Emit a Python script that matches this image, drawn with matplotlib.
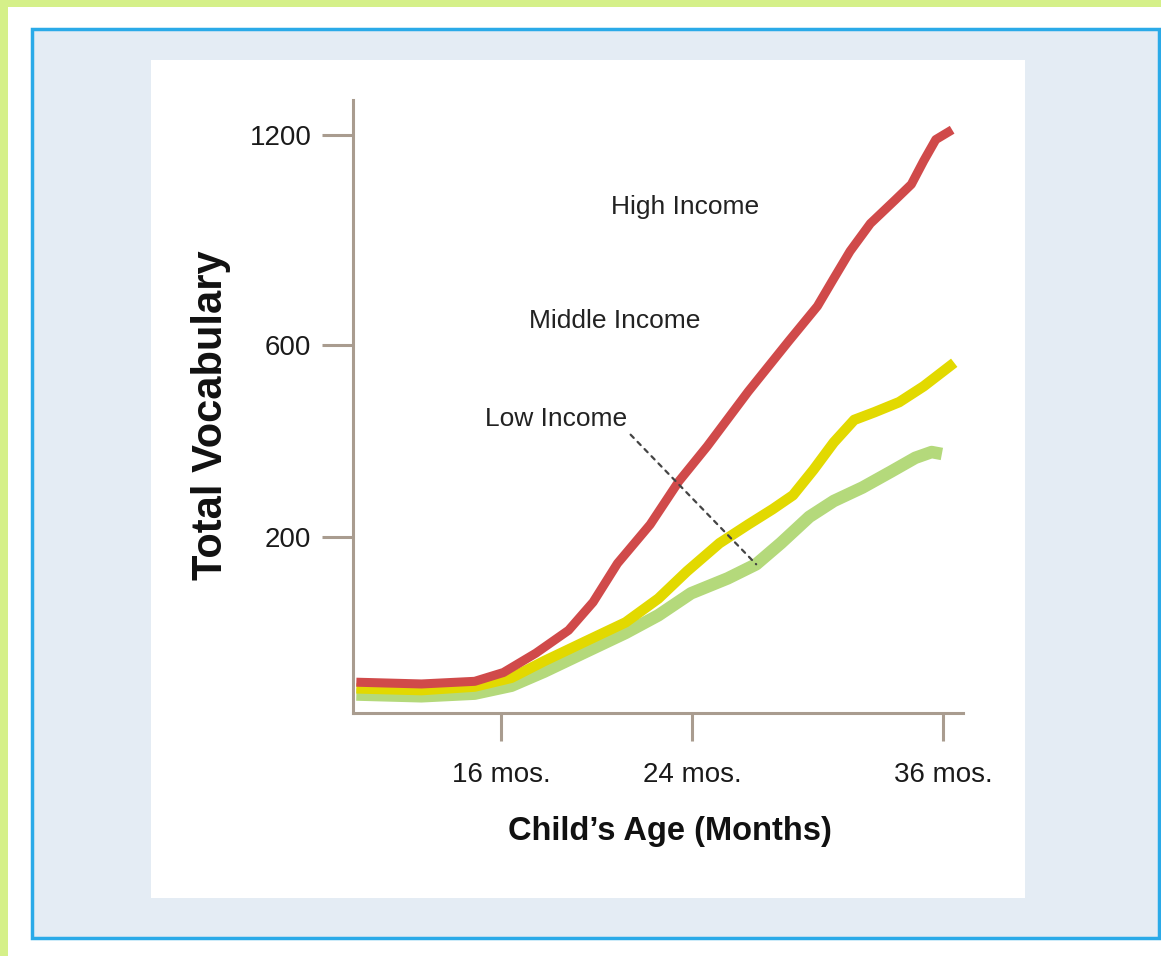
import numpy as np
import matplotlib
matplotlib.use('Agg')
import matplotlib.pyplot as plt
from matplotlib.patches import Rectangle

# data (months, total vocabulary)
high_x = [9.94, 12.67, 14.90, 16.10, 17.46, 18.83, 19.86, 20.88, 22.25, 23.45, 24.73, 26.69,
          28.64, 30.00, 30.78, 31.56, 32.53, 33.71, 34.49, 35.08, 35.66, 36.44]
high_y = [35, 33, 36, 46, 68, 94, 126, 170, 226, 316, 389, 503,
          612, 711, 790, 868, 947, 1014, 1059, 1126, 1187, 1215]

mid_x = [9.94, 12.67, 14.90, 16.44, 17.81, 19.51, 21.22, 22.59, 23.79, 25.32, 26.69, 27.86,
         28.83, 29.81, 30.78, 31.76, 32.73, 33.91, 35.08, 36.54]
mid_y = [28, 26, 30, 40, 59, 81, 103, 130, 161, 193, 226, 258,
         287, 340, 397, 444, 460, 481, 514, 563]

low_x = [9.94, 12.67, 14.90, 16.44, 17.81, 19.51, 21.22, 22.59, 23.96, 25.71, 27.07, 28.25,
         29.61, 30.78, 32.15, 33.51, 34.68, 35.46, 35.95]
low_y = [21, 19, 22, 31, 47, 69, 91, 111, 136, 153, 169, 193,
         242, 275, 303, 336, 365, 377, 373]

x_ticks = [16, 24, 36]
x_labels = ['16 mos.', '24 mos.', '36 mos.']
y_ticks = [200, 600, 1200]
y_labels = ['200', '600', '1200']

# the axes in the original are hand drawn: uneven spacing between ticks
xk = [0, 16, 24, 36, 60]
xp = [119, 501, 692, 943, 1445]
yk = [-500, 0, 200, 600, 1200, 3000]
yp = [-440, 0, 176, 368, 578, 1208]

def fx(v): return np.interp(v, xk, xp)
def fx_inv(v): return np.interp(v, xp, xk)
def fy(v): return np.interp(v, yk, yp)
def fy_inv(v): return np.interp(v, yp, yk)

W, H = 1161, 956
fig = plt.figure(figsize=(W/100, H/100), dpi=100)
fig.patch.set_facecolor('white')

def box(x0, y0, x1, y1, **kw):
    r = Rectangle((x0/W, 1-y1/H), (x1-x0)/W, (y1-y0)/H, transform=fig.transFigure, zorder=-5, **kw)
    fig.add_artist(r)

box(0, 0, W, 7, facecolor='#d5f089', edgecolor='none')
box(0, 0, 8, H, facecolor='#d5f089', edgecolor='none')
box(32, 29, 1159, 938, facecolor='#e4ecf4', edgecolor='#2aaae8', linewidth=2.5)
box(151, 60, 1025, 898, facecolor='white', edgecolor='none')

narrow = dict(family=['Liberation Sans', 'DejaVu Sans'], stretch='condensed')
axcol = '#a99c8f'

ax = fig.add_axes([353/W, 1-713/H, 610/W, 613/H])
ax.patch.set_alpha(0)
ax.set_xscale('function', functions=(fx, fx_inv))
ax.set_yscale('function', functions=(fy, fy_inv))

ax.plot(low_x, low_y, color='#b4d97b', lw=9, solid_capstyle='butt', solid_joinstyle='round', zorder=2)
ax.plot(mid_x, mid_y, color='#e2d900', lw=7.5, solid_capstyle='butt', solid_joinstyle='round', zorder=3)
ax.plot(high_x, high_y, color='#d04a4a', lw=6.5, solid_capstyle='butt', solid_joinstyle='round', zorder=4)

ax.set_xlim(9.8, 36.96)
ax.set_ylim(0, 1300)

for s in ['top', 'right']:
    ax.spines[s].set_visible(False)
for s in ['left', 'bottom']:
    ax.spines[s].set_color(axcol)
    ax.spines[s].set_linewidth(2.2)

ax.set_xticks(x_ticks)
ax.set_xticklabels(x_labels, fontsize=20, color='#1a1a1a', **narrow)
ax.set_yticks(y_ticks)
ax.set_yticklabels(y_labels, fontsize=20, color='#1a1a1a', **narrow)
ax.minorticks_off()
ax.tick_params(axis='x', length=20, width=2.2, color=axcol, pad=15)
ax.tick_params(axis='y', length=22, width=2.2, color=axcol, pad=8)

ax.text(23.7, 994, 'High Income', fontsize=19, color='#222222', ha='center', va='center', **narrow)
ax.text(20.77, 668, 'Middle Income', fontsize=19, color='#222222', ha='center', va='center', **narrow)
ax.annotate('Low Income', xy=(low_x[10], low_y[10]), xytext=(18.3, 446),
            fontsize=19, color='#222222', ha='center', va='center',
            arrowprops=dict(arrowstyle='-', color='#444444', lw=1.6, linestyle=(0, (2, 2.5)),
                            shrinkA=1, shrinkB=0, relpos=(1, 0)), zorder=6, **narrow)

ax.set_xlabel("Child\u2019s Age (Months)", fontweight='bold', fontsize=23.5, color='#111111', **narrow)
ax.xaxis.set_label_coords(0.52, -0.168)
ax.text(-0.232, 0.486, 'Total Vocabulary', transform=ax.transAxes, rotation=90,
        family=['Liberation Sans', 'DejaVu Sans'], fontweight='bold', fontsize=30,
        color='#111111', ha='center', va='center')

fig.savefig('out.png', dpi=100)
